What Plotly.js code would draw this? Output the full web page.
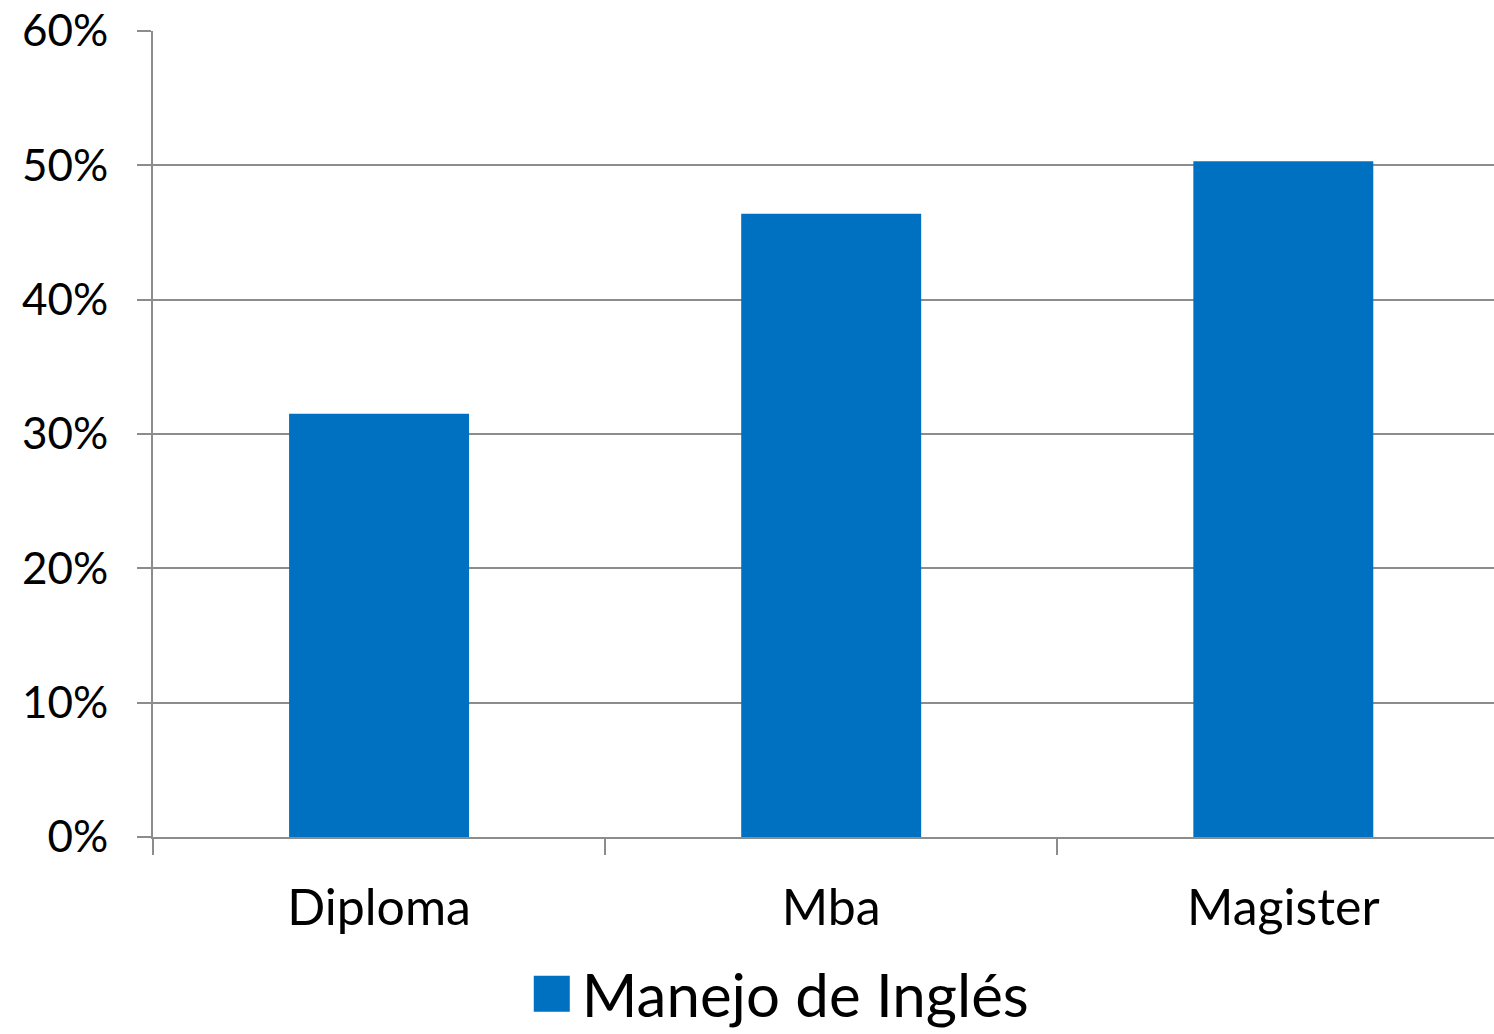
<!DOCTYPE html>
<html>
<head>
<meta charset="utf-8">
<script src="https://cdn.plot.ly/plotly-3.0.1.min.js"></script>
<style>html,body{margin:0;padding:0;background:#fff;}#chart{width:1494px;height:1034px;}</style>
</head>
<body>
<div id="chart"></div>
<script>
const categories = ["Diploma", "Mba", "Magister"];
const seriesName = "Manejo de Inglés";
const values = [0.315, 0.464, 0.503];
const yTickValues = [0, 0.1, 0.2, 0.3, 0.4, 0.5, 0.6];

const FONT = "Lato, 'Open Sans', sans-serif";
const GRID = "#8c8c8c";

const data = [{
  type: "bar",
  x: categories,
  y: values,
  name: seriesName,
  marker: {color: "#0070C0", line: {width: 0}},
  hoverinfo: "x+y"
}];

const layout = {
  width: 1494, height: 1034,
  margin: {l: 153, r: 0, t: 31, b: 197},
  paper_bgcolor: "#ffffff",
  plot_bgcolor: "#ffffff",
  bargap: 0.602,
  showlegend: true,
  font: {family: FONT, color: "#000000"},
  xaxis: {
    type: "category",
    range: [-0.5, 2.466],
    showline: true, linecolor: GRID, linewidth: 2,
    ticks: "outside", tickson: "boundaries", ticklen: 16, tickcolor: GRID, tickwidth: 2,
    showgrid: false,
    ticklabelstandoff: 26,
    tickfont: {family: FONT, size: 50, color: "#000"},
    automargin: false
  },
  yaxis: {
    range: [0, 0.6],
    tickvals: yTickValues,
    tickformat: ".0%",
    showline: true, linecolor: GRID, linewidth: 2,
    ticks: "outside", ticklen: 14, tickcolor: GRID, tickwidth: 2,
    showgrid: true, gridcolor: GRID, gridwidth: 2,
    zeroline: false,
    ticklabelstandoff: 20,
    tickfont: {family: FONT, size: 44, color: "#000"},
    automargin: false
  },
  legend: {
    orientation: "h",
    xref: "paper", yref: "container",
    x: 0.47, xanchor: "center",
    y: 0.039, yanchor: "middle",
    font: {family: FONT, size: 60, color: "#000"},
    itemwidth: 40
  }
};

Plotly.newPlot("chart", data, layout, {staticPlot: true}).then(function(gd){
  document.querySelectorAll("#chart .legend .legendpoints path").forEach(function(p){
    p.setAttribute("d", "M13,18H-23V-18H13Z");
    p.style.strokeWidth = "0";
  });
});
</script>
</body>
</html>
